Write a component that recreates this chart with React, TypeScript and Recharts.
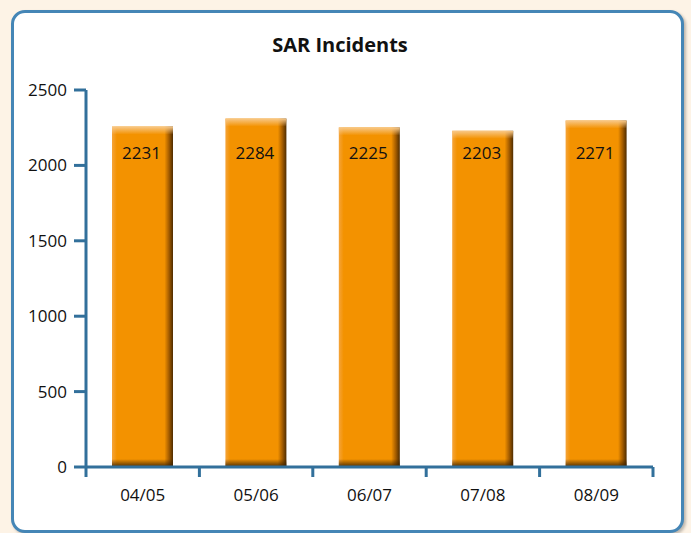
import React from 'react';
import { BarChart, Bar, XAxis, YAxis, LabelList } from 'recharts';

const CATEGORIES = ['04/05', '05/06', '06/07', '07/08', '08/09'];
const INCIDENTS = [2231, 2284, 2225, 2203, 2271];
const Y_TICKS = [0, 500, 1000, 1500, 2000, 2500];

const AXIS_COLOR = '#32709b';
const BAR_COLOR = '#f39200';
const FONT = '"Open Sans", "Noto Sans", sans-serif';
const LABEL_Y = 153; // value labels all sit on one line in the original
const CAP = 4; // the 3D top face sits a little above the value

const data = CATEGORIES.map((label, i) => ({ pos: i + 0.5, label, value: INCIDENTS[i] }));

// boundary ticks (0..5) get a tick mark, the half positions get the category text
const xTicks: number[] = [];
for (let i = 0; i <= CATEGORIES.length; i++) {
    xTicks.push(i);
    if (i < CATEGORIES.length) xTicks.push(i + 0.5);
}

const XTick = (props: any) => {
    const { x, y, payload } = props;
    const v = payload.value;
    if (Number.isInteger(v)) {
        return <line x1={x} x2={x} y1={y} y2={y + 10} stroke={AXIS_COLOR} strokeWidth={3} />;
    }
    return (
        <text x={x} y={y + 34} textAnchor="middle" fontSize={17} fill="#111">
            {CATEGORIES[Math.floor(v)]}
        </text>
    );
};

const Bar3D = (props: any) => {
    const { x, y, width, height } = props;
    if (!height || height <= 0) return null;
    const top = y - CAP;
    const h = height + CAP;
    return (
        <g>
            <rect x={x} y={top} width={width} height={h} fill="url(#barSide)" />
            <rect x={x} y={top} width={width} height={8} fill="url(#barTop)" />
            <rect x={x} y={top + h - 8} width={width} height={8} fill="url(#barBottom)" />
        </g>
    );
};

const ValueLabel = (props: any) => {
    const { x, width, value } = props;
    return (
        <text x={x + width / 2 - 1} y={LABEL_Y + 6} textAnchor="middle" fontSize={17} fill="#111">
            {value}
        </text>
    );
};

export default function App() {
    return (
        <div style={{ position: 'absolute', left: 0, top: 0, width: 691, height: 533, background: '#fdf3e6', fontFamily: FONT }}>
            <div
                style={{
                    position: 'absolute',
                    left: 11,
                    top: 10,
                    width: 667,
                    height: 517,
                    border: '3px solid #4586b6',
                    borderRadius: 14,
                    background: '#fff',
                    boxShadow: '2px 2px 3px rgba(0,0,0,0.25)',
                }}
            />
            <div style={{ position: 'absolute', left: 0, top: 0 }}>
                <BarChart width={691} height={533} data={data} margin={{ top: 90, right: 38, left: 0, bottom: 0 }}>
                    <defs>
                        <linearGradient id="barSide" x1="0" y1="0" x2="1" y2="0">
                            <stop offset="0%" stopColor="#f5a43a" />
                            <stop offset="8%" stopColor={BAR_COLOR} />
                            <stop offset="86%" stopColor={BAR_COLOR} />
                            <stop offset="93%" stopColor="#a85f00" />
                            <stop offset="100%" stopColor="#4e2c00" />
                        </linearGradient>
                        <linearGradient id="barTop" x1="0" y1="0" x2="0" y2="1">
                            <stop offset="0%" stopColor="#f8c888" stopOpacity={1} />
                            <stop offset="100%" stopColor="#f8c888" stopOpacity={0} />
                        </linearGradient>
                        <linearGradient id="barBottom" x1="0" y1="0" x2="0" y2="1">
                            <stop offset="0%" stopColor="#3a2000" stopOpacity={0} />
                            <stop offset="100%" stopColor="#3a2000" stopOpacity={0.9} />
                        </linearGradient>
                    </defs>
                    <text x={340} y={52} textAnchor="middle" fontSize={20} fontWeight={700} fill="#111">
                        SAR Incidents
                    </text>
                    <XAxis
                        dataKey="pos"
                        type="number"
                        domain={[0, CATEGORIES.length]}
                        ticks={xTicks}
                        interval={0}
                        height={66}
                        tickSize={0}
                        tickMargin={0}
                        tickLine={false}
                        axisLine={{ stroke: AXIS_COLOR, strokeWidth: 3 }}
                        tick={<XTick />}
                    />
                    <YAxis
                        domain={[0, 2500]}
                        ticks={Y_TICKS}
                        width={86}
                        tickSize={12}
                        tickMargin={7}
                        axisLine={{ stroke: AXIS_COLOR, strokeWidth: 3 }}
                        tickLine={{ stroke: AXIS_COLOR, strokeWidth: 3 }}
                        tick={{ fontSize: 17, fill: '#111' }}
                    />
                    <Bar dataKey="value" barSize={61} shape={<Bar3D />} isAnimationActive={false}>
                        <LabelList dataKey="value" content={<ValueLabel />} />
                    </Bar>
                </BarChart>
            </div>
        </div>
    );
}
